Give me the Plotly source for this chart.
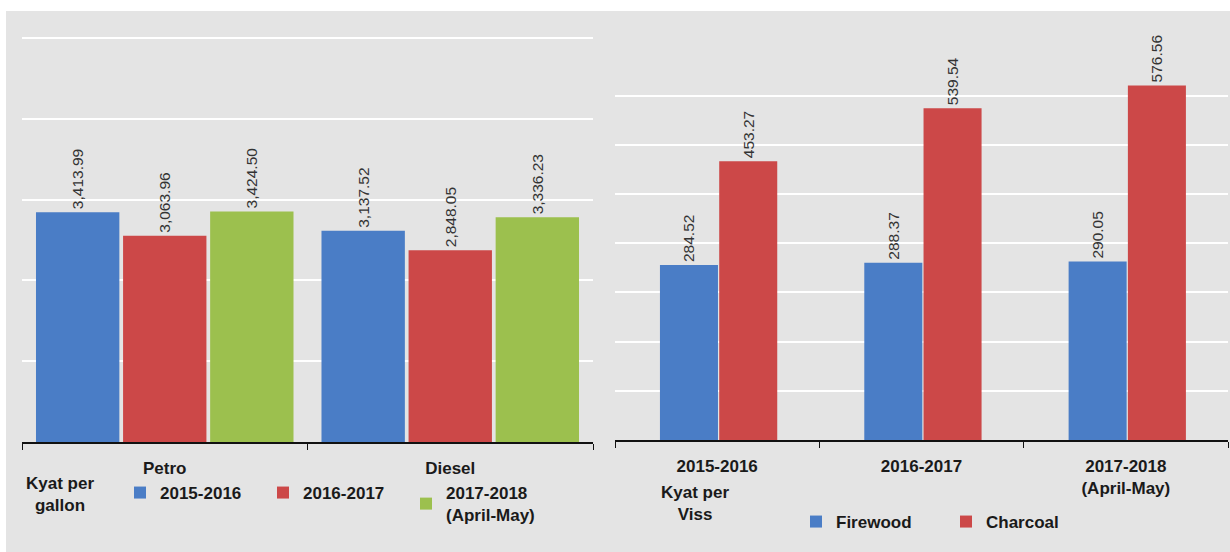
import plotly.graph_objects as go

# ---------------------------------------------------------------------------
# Data
# ---------------------------------------------------------------------------
FUELS = ["Petro", "Diesel"]
FUEL_SERIES = ["2015-2016", "2016-2017", "2017-2018<br>(April-May)"]
FUEL_VALUES = [
    [3413.99, 3137.52],   # 2015-2016
    [3063.96, 2848.05],   # 2016-2017
    [3424.50, 3336.23],   # 2017-2018 (April-May)
]

YEARS = ["2015-2016", "2016-2017", "2017-2018<br>(April-May)"]
FIREWOOD = [284.52, 288.37, 290.05]
CHARCOAL = [453.27, 539.54, 576.56]

# ---------------------------------------------------------------------------
# Styling
# ---------------------------------------------------------------------------
W, H = 1230, 552
FONT = "Arial, Liberation Sans, sans-serif"
BLUE = "#4a7dc6"
RED = "#cc4848"
GREEN = "#9cc04e"
BG = "#e4e4e4"
BOLD = dict(size=17, color="#1a1a1a", family=FONT, weight="bold")


def px_x(p):
    return p / W


def px_y(p):
    return 1 - p / H


fig = go.Figure()

# left panel: fuel prices per gallon
fuel_colors = [BLUE, RED, GREEN]
fuel_offsets = [-0.451, -0.146, 0.159]
for name, vals, col, off in zip(FUEL_SERIES, FUEL_VALUES, fuel_colors, fuel_offsets):
    fig.add_trace(go.Bar(
        x=FUELS, y=vals, name=name,
        marker=dict(color=col, line=dict(width=0)),
        width=0.292, offset=off,
        texttemplate="%{y:,.2f}", textposition="outside", textangle=-90,
        textfont=dict(size=15.5, color="#333333", family=FONT),
        constraintext="none", cliponaxis=False,
        xaxis="x", yaxis="y", legend="legend",
    ))

# right panel: firewood / charcoal per viss
for name, vals, col, off in [("Firewood", FIREWOOD, BLUE, -0.28),
                             ("Charcoal", CHARCOAL, RED, 0.01)]:
    fig.add_trace(go.Bar(
        x=YEARS, y=vals, name=name,
        marker=dict(color=col, line=dict(width=0)),
        width=0.284, offset=off,
        texttemplate="%{y:,.2f}", textposition="outside", textangle=-90,
        textfont=dict(size=15.5, color="#333333", family=FONT),
        constraintext="none", cliponaxis=False,
        xaxis="x2", yaxis="y2", legend="legend2",
    ))

xaxis_common = dict(
    type="category", showline=True, linecolor="#111111", linewidth=1.5,
    ticks="outside", tickson="boundaries", ticklen=6, tickcolor="#111111",
    tickwidth=1.2, showgrid=False, zeroline=False,
    tickfont=BOLD, ticklabelstandoff=10,
    fixedrange=True,
)
yaxis_common = dict(
    showticklabels=False, showline=False, ticks="", zeroline=False,
    showgrid=True, gridcolor="#ffffff", gridwidth=2, fixedrange=True,
)

legend_common = dict(
    orientation="h", bgcolor="rgba(0,0,0,0)", borderwidth=0,
    font=BOLD, xanchor="left", yanchor="top", itemwidth=30,
    traceorder="normal",
)

fig.update_layout(
    width=W, height=H,
    margin=dict(l=0, r=0, t=0, b=0),
    paper_bgcolor="#ffffff",
    plot_bgcolor="rgba(0,0,0,0)",
    font=dict(family=FONT),
    showlegend=True,
    xaxis=dict(domain=[px_x(22), px_x(593)], anchor="y", **xaxis_common),
    yaxis=dict(domain=[px_y(442), px_y(36)], anchor="x", range=[0, 6030],
               dtick=1200, **yaxis_common),
    xaxis2=dict(domain=[px_x(615), px_x(1228)], anchor="y2", **xaxis_common),
    yaxis2=dict(domain=[px_y(440), px_y(71)], anchor="x2", range=[0, 600],
                dtick=80, **yaxis_common),
    legend=dict(x=px_x(120), y=px_y(475), entrywidth=98, **legend_common),
    legend2=dict(x=px_x(796), y=px_y(504), entrywidth=105, **legend_common),
    shapes=[
        dict(type="rect", xref="paper", yref="paper",
             x0=px_x(6), x1=1, y0=0, y1=px_y(11),
             fillcolor=BG, line=dict(width=0), layer="below"),
    ],
    annotations=[
        dict(text="Kyat per<br>gallon", xref="paper", yref="paper",
             x=px_x(60), y=px_y(494), xanchor="center", yanchor="middle",
             showarrow=False, align="center", font=BOLD),
        dict(text="Kyat per<br>Viss", xref="paper", yref="paper",
             x=px_x(695), y=px_y(503), xanchor="center", yanchor="middle",
             showarrow=False, align="center", font=BOLD),
    ],
)

fig.write_html("out.html", config={"displayModeBar": False},
               post_script="document.body.style.margin='0px';")
